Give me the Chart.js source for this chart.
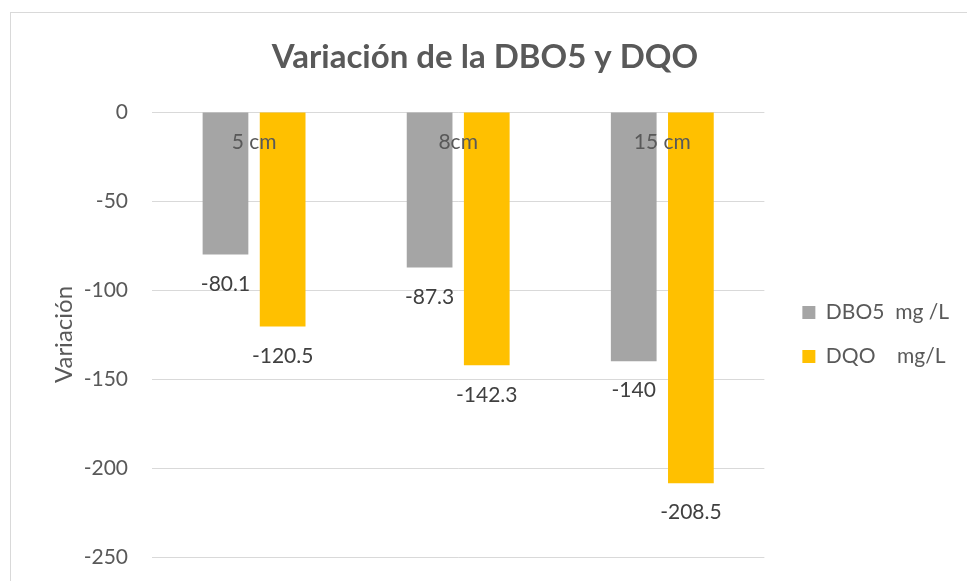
<!DOCTYPE html>
<html>
<head>
<meta charset="utf-8">
<script src="https://cdn.jsdelivr.net/npm/chart.js@4.4.1/dist/chart.umd.min.js"></script>
<style>
  html, body { margin:0; padding:0; background:#fff; overflow:hidden; }
  #frame { position:absolute; left:10px; top:12px; width:1000px; height:600px; border:1px solid #d9d9d9; }
  #wrap { position:absolute; left:0; top:0; width:967px; height:581px; }
</style>
</head>
<body>
<div id="frame"></div>
<div id="wrap"><canvas id="c" width="967" height="581"></canvas></div>
<script>
const categories = ["5 cm", "8cm", "15 cm"];
const dbo5Values = [-80.1, -87.3, -140];
const dqoValues = [-120.5, -142.3, -208.5];
const seriesNames = ["DBO5  mg /L", "DQO    mg/L"];
const yTicks = [0, -50, -100, -150, -200, -250];

const FONT = "Lato, 'Open Sans', sans-serif";

const labelPlugin = {
  id: 'labelPlugin',
  afterLayout(chart) {
    const lg = chart.legend;
    if (lg) {
      const w = lg.right - lg.left;
      lg.left = chart.chartArea.right + 15;
      lg.right = lg.left + w;
      lg.top = chart.chartArea.top;
      lg.bottom = chart.chartArea.bottom;
      lg.height = lg.bottom - lg.top;
    }
  },
  afterDatasetsDraw(chart) {
    const ctx = chart.ctx;
    const xs = chart.scales.x, ys = chart.scales.y;
    ctx.save();
    ctx.font = "21px " + FONT;
    ctx.textAlign = 'center';
    ctx.textBaseline = 'middle';
    ctx.fillStyle = '#595959';
    categories.forEach((c, i) => {
      ctx.fillText(c, xs.getPixelForValue(i), ys.getPixelForValue(0) + 30);
    });
    ctx.fillStyle = '#404040';
    chart.data.datasets.forEach((ds, di) => {
      const meta = chart.getDatasetMeta(di);
      meta.data.forEach((bar, i) => {
        ctx.fillText(String(ds.data[i]), bar.x, bar.y + 29.5);
      });
    });
    ctx.restore();
  }
};

new Chart(document.getElementById('c'), {
  type: 'bar',
  data: {
    labels: categories,
    datasets: [
      { label: seriesNames[0], data: dbo5Values, backgroundColor: '#a5a5a5', categoryPercentage: 0.56, barPercentage: 0.8 },
      { label: seriesNames[1], data: dqoValues, backgroundColor: '#ffc000', categoryPercentage: 0.56, barPercentage: 0.8 }
    ]
  },
  options: {
    responsive: false,
    animation: false,
    devicePixelRatio: 1,
    layout: { padding: { top: 10, left: 26, right: 23, bottom: 24 } },
    plugins: {
      title: {
        display: true,
        text: 'Variación de la DBO5 y DQO',
        color: '#595959',
        font: { family: FONT, size: 33, weight: 'bold', lineHeight: 1.2 },
        padding: { top: 27.2, bottom: 35.2 }
      },
      legend: {
        position: 'right',
        labels: {
          color: '#595959',
          font: { family: FONT, size: 21 },
          boxWidth: 13, boxHeight: 13,
          padding: 23
        }
      },
      tooltip: { enabled: false }
    },
    scales: {
      x: { display: false },
      y: {
        position: 'left',
        min: -250, max: 0,
        afterBuildTicks(scale) { scale.ticks = yTicks.map(v => ({ value: v })); },
        afterFit(scale) { scale.width = 126; scale.paddingTop = 0; scale.paddingBottom = 0; },
        grid: { color: '#d9d9d9', lineWidth: 1, drawTicks: false },
        border: { display: false },
        ticks: { color: '#595959', font: { family: FONT, size: 21 }, padding: 24 },
        title: { display: true, text: 'Variación', color: '#595959', font: { family: FONT, size: 24, lineHeight: 1.2 }, padding: { top: 23.6, bottom: 0 } }
      }
    }
  },
  plugins: [labelPlugin]
});
</script>
</body>
</html>
